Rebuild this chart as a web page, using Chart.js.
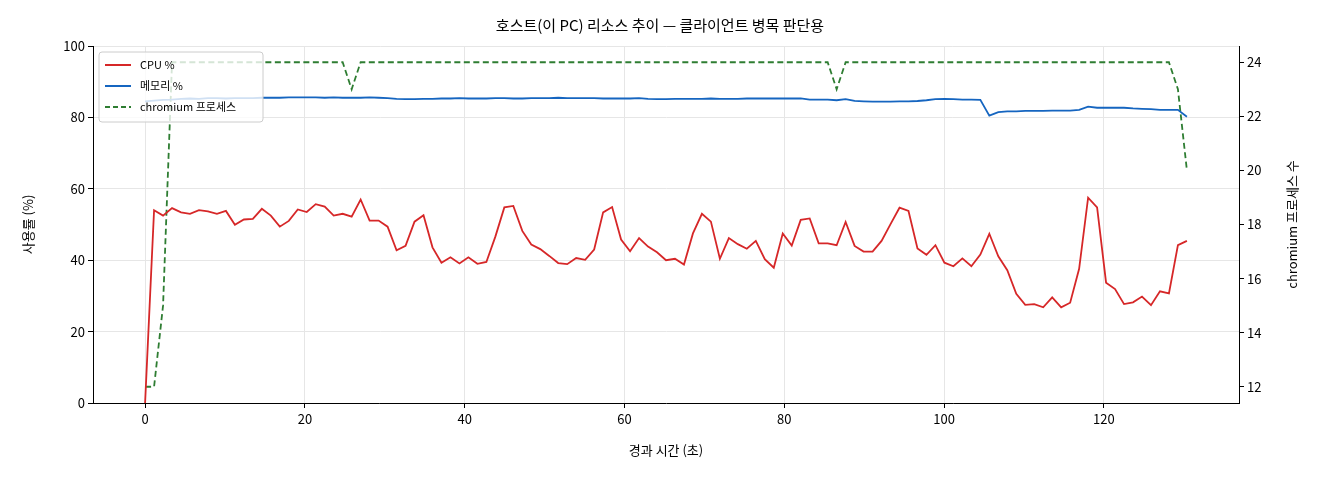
<!DOCTYPE html>
<html><head><meta charset="utf-8">
<script src="https://cdn.jsdelivr.net/npm/chart.js@4"></script>
<style>html,body{margin:0;padding:0;background:#fff}#w{width:1320px;height:480px}</style>
</head><body><div id="w"><canvas id="c" width="1320" height="480"></canvas></div>
<script>
const cpu=[0,54.0,52.5,54.6,53.4,53.0,54.0,53.7,53.0,53.8,49.9,51.4,51.6,54.4,52.5,49.4,51.0,54.2,53.5,55.7,55.0,52.5,53.0,52.2,57.0,51.1,51.1,49.4,42.8,44.0,50.8,52.6,43.6,39.3,40.8,39.1,40.8,39.0,39.5,46.6,54.8,55.2,48.2,44.4,43.1,41.2,39.2,38.9,40.6,40.1,43.0,53.4,54.9,45.8,42.5,46.2,43.8,42.2,40.0,40.4,38.8,47.5,53.0,50.8,40.4,46.2,44.5,43.2,45.4,40.3,37.9,47.5,44.1,51.3,51.7,44.7,44.7,44.2,50.7,44.0,42.4,42.4,45.4,50.1,54.7,53.8,43.3,41.5,44.2,39.3,38.3,40.5,38.3,41.6,47.4,41.1,37.2,30.6,27.5,27.7,26.8,29.6,26.8,28.1,37.6,57.5,54.8,33.7,31.9,27.7,28.2,29.8,27.4,31.3,30.7,44.2,45.4];
const mem=[84.5,84.7,84.9,85.0,85.2,85.3,85.2,85.4,85.4,85.3,85.4,85.4,85.4,85.5,85.5,85.5,85.6,85.6,85.6,85.6,85.5,85.6,85.5,85.5,85.5,85.6,85.5,85.4,85.2,85.1,85.1,85.2,85.2,85.3,85.3,85.4,85.3,85.3,85.3,85.4,85.4,85.3,85.3,85.4,85.4,85.4,85.5,85.4,85.4,85.4,85.4,85.3,85.3,85.3,85.3,85.4,85.2,85.1,85.1,85.2,85.2,85.2,85.2,85.3,85.2,85.2,85.2,85.3,85.3,85.3,85.3,85.3,85.3,85.3,85.0,85.0,85.0,84.8,85.1,84.6,84.5,84.4,84.4,84.4,84.5,84.5,84.6,84.8,85.1,85.2,85.1,85.0,85.0,84.9,80.5,81.5,81.7,81.7,81.8,81.8,81.8,81.9,81.9,81.9,82.1,83.0,82.7,82.7,82.7,82.7,82.5,82.4,82.3,82.1,82.1,82.1,80.2];
const procs=[12,12,15,24,24,24,24,24,24,24,24,24,24,24,24,24,24,24,24,24,24,24,24,23,24,24,24,24,24,24,24,24,24,24,24,24,24,24,24,24,24,24,24,24,24,24,24,24,24,24,24,24,24,24,24,24,24,24,24,24,24,24,24,24,24,24,24,24,24,24,24,24,24,24,24,24,24,23,24,24,24,24,24,24,24,24,24,24,24,24,24,24,24,24,24,24,24,24,24,24,24,24,24,24,24,24,24,24,24,24,24,24,24,24,24,23,20];
const interval=130.4/116;
const times=cpu.map((_,i)=>i*interval);
const xTicks=[0,20,40,60,80,100,120];
const leftTicks=[0,20,40,60,80,100];
const rightTicks=[12,14,16,18,20,22,24];
const labels={cpu:'CPU %',mem:'메모리 %',proc:'chromium 프로세스'};
const axisTitles={x:'경과 시간 (초)',y:'사용률 (%)',y2:'chromium 프로세스 수'};
const F='"Noto Sans CJK KR","DejaVu Sans",sans-serif';
const pts=a=>a.map((v,i)=>({x:times[i],y:v}));
const legendPlugin={id:'lg',afterDatasetsDraw(ch){
  const c=ch.ctx,a=ch.chartArea;const x0=a.left+6,y0=a.top+6;
  c.save();c.fillStyle='rgba(255,255,255,0.8)';c.strokeStyle='#ccc';c.lineWidth=1;
  c.beginPath();c.roundRect(x0,y0,164,70,3);c.fill();c.stroke();
  const items=[[labels.cpu,'#d62728',[]],[labels.mem,'#1565c0',[]],[labels.proc,'#2e7d32',[5,3]]];
  c.font='11px '+F;c.textBaseline='middle';
  items.forEach((it,k)=>{const y=y0+13+k*21;c.strokeStyle=it[1];c.lineWidth=2;c.setLineDash(it[2]);
    c.beginPath();c.moveTo(x0+6,y);c.lineTo(x0+32,y);c.stroke();c.setLineDash([]);
    c.fillStyle='#000';c.fillText(it[0],x0+41,y);});
  c.restore();}};
const titlesPlugin={id:'at',afterDraw(ch){
  const c=ch.ctx,a=ch.chartArea;c.save();c.fillStyle='#000';c.font='13px '+F;c.textAlign='center';c.textBaseline='middle';
  c.fillText(axisTitles.x,(a.left+a.right)/2,450);
  const cy=(a.top+a.bottom)/2;
  c.save();c.translate(28,cy);c.rotate(-Math.PI/2);c.fillText(axisTitles.y,0,0);c.restore();
  c.save();c.translate(1292,cy);c.rotate(-Math.PI/2);c.fillText(axisTitles.y2,0,0);c.restore();
  c.restore();}};
new Chart(document.getElementById('c'),{type:'line',
 data:{datasets:[
  {label:labels.cpu,data:pts(cpu),borderColor:'#d62728',borderWidth:1.8,pointRadius:0,yAxisID:'y',tension:0},
  {label:labels.mem,data:pts(mem),borderColor:'#1565c0',borderWidth:1.8,pointRadius:0,yAxisID:'y',tension:0},
  {label:labels.proc,data:pts(procs),borderColor:'#2e7d32',borderWidth:1.8,borderDash:[6,3.5],pointRadius:0,yAxisID:'y2',tension:0}]},
 options:{responsive:false,animation:false,devicePixelRatio:1,
  layout:{padding:0},
  plugins:{legend:{display:false},tooltip:{enabled:false},
   title:{display:true,text:'호스트(이 PC) 리소스 추이 — 클라이언트 병목 판단용',color:'#000',font:{family:F,size:15,weight:'normal'},padding:{top:16,bottom:12}}},
  scales:{
   x:{type:'linear',min:-6.52,max:136.92,afterBuildTicks:s=>{s.ticks=xTicks.map(v=>({value:v}))},
     afterFit:s=>{s.height=77},
     ticks:{color:'#000',font:{family:F,size:13},maxRotation:0},
     grid:{color:'#e6e6e6',tickColor:'#000',tickLength:5},border:{color:'#000'}},
   y:{position:'left',min:0,max:100,afterBuildTicks:s=>{s.ticks=leftTicks.map(v=>({value:v}))},
     afterFit:s=>{s.width=93},
     ticks:{color:'#000',font:{family:F,size:13}},
     grid:{color:'#e6e6e6',tickColor:'#000',tickLength:5},border:{color:'#000'}},
   y2:{position:'right',min:11.4,max:24.6,afterBuildTicks:s=>{s.ticks=rightTicks.map(v=>({value:v}))},
     afterFit:s=>{s.width=81},
     ticks:{color:'#000',font:{family:F,size:13}},
     grid:{drawOnChartArea:false,tickColor:'#000',tickLength:5},border:{color:'#000'}}}},
 plugins:[legendPlugin,titlesPlugin,{id:'bg',beforeDraw(ch){const c=ch.ctx;c.save();c.fillStyle='#fff';c.fillRect(0,0,ch.width,ch.height);c.restore();}}]});
</script></body></html>
